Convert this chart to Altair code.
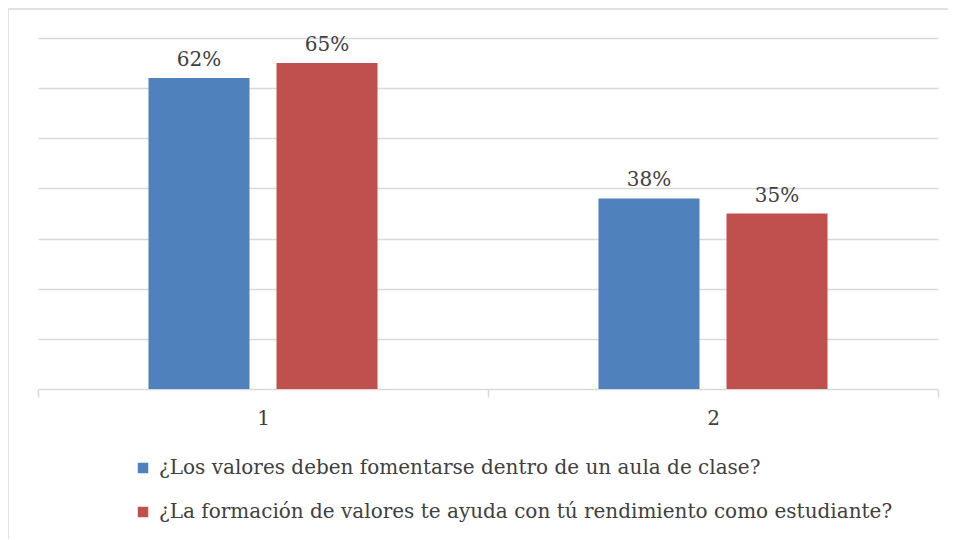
import altair as alt
import pandas as pd

categories = ["1", "2"]
series = [
    "¿Los valores deben fomentarse dentro de un aula de clase?",
    "¿La formación de valores te ayuda con tú rendimiento como estudiante?",
]
values_s1 = [0.62, 0.38]
values_s2 = [0.65, 0.35]
colors = ["#4F81BD", "#C0504D"]
grid_values = [0.1, 0.2, 0.3, 0.4, 0.5, 0.6, 0.7]

rows = []
for i, c in enumerate(categories):
    rows.append({"cat": c, "serie": series[0], "valor": values_s1[i]})
    rows.append({"cat": c, "serie": series[1], "valor": values_s2[i]})
df = pd.DataFrame(rows)

FONT = "DejaVu Serif"
FS = 20
TXT = "#404040"
GRID = "#d9d9d9"

x = alt.X(
    "cat:N",
    sort=categories,
    scale=alt.Scale(paddingInner=0, paddingOuter=0),
    axis=alt.Axis(
        title=None, labelAngle=0, tickBand="extent", tickSize=8,
        tickColor=GRID, domainColor=GRID, tickWidth=1.5, domainWidth=1.5,
        labelFont=FONT, labelFontSize=FS, labelColor=TXT, labelPadding=11,
    ),
)
xo = alt.XOffset(
    "serie:N", sort=series,
    scale=alt.Scale(paddingInner=0.211, paddingOuter=0.863),
)
y = alt.Y(
    "valor:Q",
    scale=alt.Scale(domain=[0, 0.7], nice=False),
    axis=alt.Axis(
        title=None, labels=False, ticks=False, domain=False,
        values=grid_values, gridColor=GRID, gridWidth=1.5,
    ),
)

frame = alt.Chart(pd.DataFrame({"a": [0]})).mark_rect(
    fill="transparent", stroke=GRID, strokeWidth=1.5
).encode(
    x=alt.value(-30), x2=alt.value(980), y=alt.value(-29), y2=alt.value(620)
)

bars = alt.Chart(df).mark_bar().encode(
    x=x, xOffset=xo, y=y,
    color=alt.Color(
        "serie:N",
        scale=alt.Scale(domain=series, range=colors),
        legend=alt.Legend(
            title=None, orient="none", legendX=95, legendY=420,
            direction="vertical", symbolType="square", symbolSize=110,
            symbolStrokeWidth=0, labelFont=FONT, labelFontSize=FS,
            labelColor=TXT, labelLimit=0, rowPadding=24, labelOffset=6,
        ),
    ),
)

labels = alt.Chart(df).mark_text(
    baseline="bottom", dy=-8, font=FONT, fontSize=FS, color=TXT
).encode(
    x=x, xOffset=xo, y=y, text=alt.Text("valor:Q", format=".0%")
)

chart = alt.layer(frame, bars, labels).properties(
    width=900, height=351, autosize="none",
    padding={"left": 30, "top": 30, "right": 10, "bottom": 150},
).configure_view(strokeWidth=0)

chart.save("out.html", embed_options={"renderer": "svg", "actions": False})
